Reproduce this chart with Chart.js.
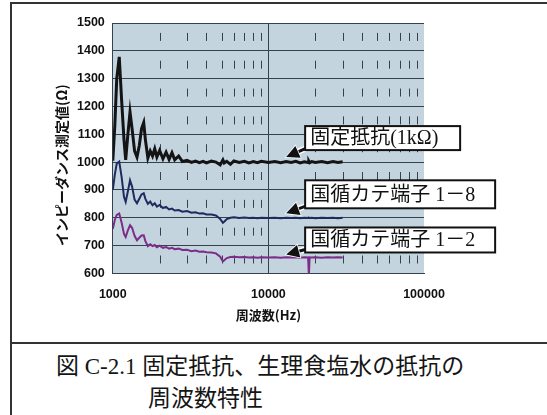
<!DOCTYPE html>
<html lang="ja">
<head>
<meta charset="utf-8">
<script src="https://cdn.jsdelivr.net/npm/chart.js@4.4.0/dist/chart.umd.min.js"></script>
<style>
  html, body { margin: 0; padding: 0; background: #fff; width: 547px; height: 415px; overflow: hidden; }
  #frame { position: absolute; left: 10px; top: 2px; width: 600px; height: 460px; border-left: 2px solid #333; border-top: 2px solid #333; }
  #sep { position: absolute; left: 10px; top: 342px; width: 600px; border-top: 2px solid #333; }
  #chart { position: absolute; left: 0; top: 0; }
  .cap { position: absolute; font: 23px "Liberation Serif", "Noto Sans CJK JP", serif; color: #151515; white-space: nowrap; line-height: 31.5px; }
</style>
</head>
<body>
<div id="frame"></div>
<div id="sep"></div>
<canvas id="chart" width="547" height="342"></canvas>
<div class="cap" style="left:56px; top:351px;">図 C-2.1 固定抵抗、生理食塩水の抵抗の</div>
<div class="cap" style="left:148px; top:383px;">周波数特性</div>
<script>
// 周波数 (Hz)
const freqs = [1000, 1030, 1060, 1100, 1140, 1180, 1210, 1250, 1290, 1330,
  1380, 1430, 1480, 1530, 1580, 1620, 1680, 1740, 1800, 1860,
  1920, 2000, 2100, 2200, 2300, 2400, 2500, 2650, 2800, 3000,
  3200, 3400, 3600, 3800, 4000, 4300, 4600, 4900, 5100, 5200,
  5400, 5700, 6000, 6500, 7000, 7500, 8000, 8500, 9000, 10000,
  11000, 12000, 13000, 14000, 15000, 16000, 17000, 18000, 18200, 18400,
  19000, 20000, 22000, 24000, 26000, 28000, 30000];

// 固定抵抗(1kΩ)
const fixedRes = [1005, 1130, 1300, 1378, 1220, 1080, 1008, 1100, 1180, 1120,
  1040, 1018, 1060, 1120, 1142, 1080, 1015, 1040, 1022, 1048,
  1018, 1042, 1012, 1036, 1010, 1034, 1008, 1022, 1002, 1006,
  999, 1004, 998, 1003, 997, 1004, 1000, 990, 1008, 997,
  1003, 992, 1004, 999, 1003, 997, 1002, 998, 1003, 999,
  1002, 998, 1002, 999, 1003, 997, 1001, 999, 1003, 998,
  1002, 999, 1002, 998, 1002, 999, 1001];

// 国循カテ端子 1-8
const term18 = [900, 955, 995, 1002, 945, 875, 857, 895, 935, 912,
  865, 852, 868, 884, 888, 868, 850, 858, 845, 852,
  840, 846, 835, 839, 830, 833, 826, 828, 822, 824,
  818, 820, 815, 816, 812, 812, 808, 796, 782, 786,
  795, 800, 802, 799, 801, 799, 800, 798, 800, 799,
  800, 798, 800, 799, 800, 798, 800, 799, 800, 799,
  800, 798, 800, 799, 800, 798, 800];

// 国循カテ端子 1-2
const term12 = [760, 792, 810, 815, 782, 742, 731, 755, 773, 764,
  735, 719, 728, 736, 737, 716, 698, 705, 698, 702,
  694, 700, 692, 695, 689, 692, 687, 689, 684, 685,
  680, 682, 678, 679, 676, 675, 672, 660, 643, 647,
  655, 659, 660, 658, 659, 657, 658, 656, 658, 657,
  658, 656, 658, 657, 658, 656, 658, 657, 590, 658,
  657, 658, 656, 658, 657, 658, 657];

const xTicks = [1000, 10000, 100000];
const yMin = 600, yMax = 1500, yStep = 100;
const yTitle = 'インピーダンス測定値(Ω)';

// 吹き出し (矢印の先 = 周波数, 値)
const callouts = [
  { text: '固定抵抗(1kΩ)', freq: 13000, value: 1018, dy: -31, w: 155, h: 24 },
  { text: '国循カテ端子 1－8', freq: 13000, value: 816, dy: -33, w: 190, h: 28 },
  { text: '国循カテ端子 1－2', freq: 13000, value: 668, dy: -27, w: 190, h: 25 }
];

const pts = arr => arr.map((v, i) => ({ x: freqs[i], y: v }));

const paper = {
  id: 'paper',
  beforeDraw(chart) {
    const { ctx, chartArea: a } = chart;
    ctx.save();
    ctx.fillStyle = '#c3d4df';
    ctx.fillRect(a.left, a.top, a.right - a.left, a.bottom - a.top);
    // 縦軸タイトル (少し下寄せ)
    ctx.translate(a.left - 51, (a.top + a.bottom) / 2 + 17);
    ctx.rotate(-Math.PI / 2);
    ctx.font = 'bold 14px "Noto Sans CJK JP", sans-serif';
    ctx.fillStyle = '#111';
    ctx.textAlign = 'center';
    ctx.textBaseline = 'middle';
    ctx.fillText(yTitle, 0, 0);
    ctx.restore();
  },
  beforeDatasetsDraw(chart) {
    const { ctx, chartArea: a, scales: { x, y } } = chart;
    const step = Math.abs(y.getPixelForValue(yMin) - y.getPixelForValue(yMin + yStep));
    ctx.save();
    ctx.strokeStyle = '#34424d';
    ctx.lineWidth = 1;
    for (let d = 1000; d < 100000; d *= 10) {
      for (let m = 1; m < 10; m++) {
        if (d === 1000 && m === 1) continue;
        const px = Math.round(x.getPixelForValue(d * m)) + 0.5;
        if (m === 1) {
          ctx.setLineDash([]);
        } else {
          ctx.setLineDash([8, step - 8]);
          ctx.lineDashOffset = step / 2 + 4;
        }
        ctx.beginPath();
        ctx.moveTo(px, a.top);
        ctx.lineTo(px, a.bottom);
        ctx.stroke();
      }
    }
    ctx.restore();
  },
  afterDatasetsDraw(chart) {
    const { ctx, scales: { x, y } } = chart;
    ctx.save();
    ctx.font = '20px "Liberation Serif", "Noto Sans CJK JP", serif';
    ctx.textBaseline = 'middle';
    callouts.forEach(c => {
      const tx = x.getPixelForValue(c.freq);
      const ty = y.getPixelForValue(c.value);
      const bx = tx + 19, by = ty + c.dy;
      // 矢印
      const sx = bx + 8, sy = by + c.h - 5;
      const ang = Math.atan2(ty - sy, tx - sx);
      const hl = 13, hw = 6.5;
      const bxh = tx - Math.cos(ang) * hl, byh = ty - Math.sin(ang) * hl;
      const nx = -Math.sin(ang) * hw, ny = Math.cos(ang) * hw;
      [['#fff', 6], ['#111', 3]].forEach(([col, lw]) => {
        ctx.strokeStyle = col;
        ctx.lineWidth = lw;
        ctx.beginPath();
        ctx.moveTo(sx, sy);
        ctx.lineTo(bxh, byh);
        ctx.stroke();
      });
      ctx.beginPath();
      ctx.moveTo(tx, ty);
      ctx.lineTo(bxh + nx, byh + ny);
      ctx.lineTo(bxh - nx, byh - ny);
      ctx.closePath();
      ctx.fillStyle = '#111';
      ctx.strokeStyle = '#fff';
      ctx.lineWidth = 1.5;
      ctx.stroke();
      ctx.fill();
      // 枠
      ctx.fillStyle = '#fff';
      ctx.fillRect(bx, by, c.w, c.h);
      ctx.strokeStyle = '#111';
      ctx.lineWidth = 2;
      ctx.strokeRect(bx, by, c.w, c.h);
      ctx.fillStyle = '#111';
      ctx.fillText(c.text, bx + 5, by + c.h / 2 + 1);
    });
    ctx.restore();
  }
};

const tickFont = { family: '"Liberation Sans", Arial, sans-serif', size: 12.5, weight: 'bold' };
const titleFont = { family: '"Noto Sans CJK JP", sans-serif', size: 13, weight: 'bold' };

new Chart(document.getElementById('chart'), {
  type: 'line',
  data: {
    datasets: [
      { label: '固定抵抗(1kΩ)', data: pts(fixedRes), borderColor: '#141414', borderWidth: 3 },
      { label: '国循カテ端子 1-8', data: pts(term18), borderColor: '#1f2b5e', borderWidth: 2 },
      { label: '国循カテ端子 1-2', data: pts(term12), borderColor: '#7c2d88', borderWidth: 2 }
    ]
  },
  options: {
    responsive: false,
    animation: false,
    elements: { point: { radius: 0 }, line: { tension: 0 } },
    layout: { padding: { left: 69, right: 123, top: 23, bottom: 19 } },
    plugins: { legend: { display: false }, tooltip: { enabled: false } },
    scales: {
      x: {
        type: 'logarithmic',
        min: 1000,
        max: 100000,
        afterBuildTicks: s => { s.ticks = xTicks.map(v => ({ value: v })); },
        grid: { display: false, drawTicks: false },
        border: { display: true, color: '#34424d', width: 1 },
        ticks: { color: '#111', font: tickFont, padding: 14, maxRotation: 0, autoSkip: false, callback: v => String(v) },
        title: { display: true, text: '周波数(Hz)', color: '#111', font: titleFont, padding: { top: -9, bottom: 0 } }
      },
      y: {
        min: yMin,
        max: yMax,
        grid: { color: '#34424d', lineWidth: 1, drawTicks: false },
        border: { display: true, color: '#34424d', width: 1 },
        ticks: { stepSize: yStep, color: '#111', font: tickFont, padding: 8, callback: v => String(v) }
      }
    }
  },
  plugins: [paper]
});
</script>
</body>
</html>
